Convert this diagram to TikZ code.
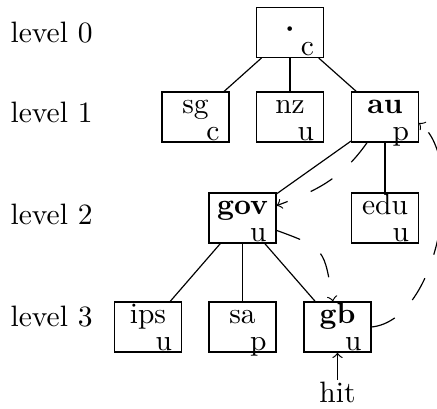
\documentclass[tikz,border=0pt]{standalone}
\usepackage{amsmath}
\begin{document}
\tikzset{
  tbox/.style={draw, minimum width=22.7pt, minimum height=16.95pt, inner sep=0pt},
  toptext/.style={anchor=base, inner sep=0pt},
  bottext/.style={anchor=base east, inner sep=0pt},
  lvl/.style={anchor=base west, inner sep=0pt},
  hop/.style={dash pattern=on 3mm off 3mm, ->},
}
\newcommand\dombox[4]{%
  \node[tbox] (#1) at (#2) {};
  \node[toptext] (#1t) at ([yshift=-7.5pt]#1.north) {#3};
  \node[bottext] (#1b) at ([xshift=-3.2pt,yshift=0.8pt]#1.south east) {#4};
}
\begin{tikzpicture}[x=0.339pt,y=-0.339pt]
\useasboundingbox (0,0) rectangle (437,409);
% level labels
\node[lvl] (l0) at (10,42.7) {level 0};
\node[lvl] (l1) at (10,122.7) {level 1};
\node[lvl] (l2) at (10,225) {level 2};
\node[lvl] (l3) at (10,326.7) {level 3};
% boxes
\dombox{root}{290,32.5}{}{c}
\node[toptext] (roott) at ([yshift=-10pt]root.north) {$\boldsymbol{\cdot}$};
\dombox{sg}{195.5,117}{sg}{c}
\dombox{nz}{290,117}{nz}{u}
\dombox{au}{385,117}{\textbf{au}}{p}
\dombox{gov}{242.5,218}{\textbf{gov}}{u}
\dombox{edu}{385,218}{edu}{u}
\dombox{ips}{148,327}{ips}{u}
\dombox{sa}{242.5,327}{sa}{p}
\dombox{gb}{337.5,327}{\textbf{gb}}{u}
% tree edges
\draw (root) -- (sg);
\draw (root) -- (nz);
\draw (root) -- (au);
\draw (au) -- (gov);
\draw (au) -- (edu);
\draw (gov) -- (ips);
\draw (gov) -- (sa);
\draw (gov) -- (gb);
% lookup path
\node[anchor=base, inner sep=0.7pt] (hit) at (337.5,403) {hit};
\draw[->] (hit) -- (gb);
\draw[hop] (gb.east) .. controls +(68,-7) and +(47,35) .. (au.-10);
\draw[hop] (au) to[out=235,in=20] (gov);
\draw[hop] (gov) to[out=-20,in=100,looseness=1.5] (gb);
\end{tikzpicture}
\end{document}
